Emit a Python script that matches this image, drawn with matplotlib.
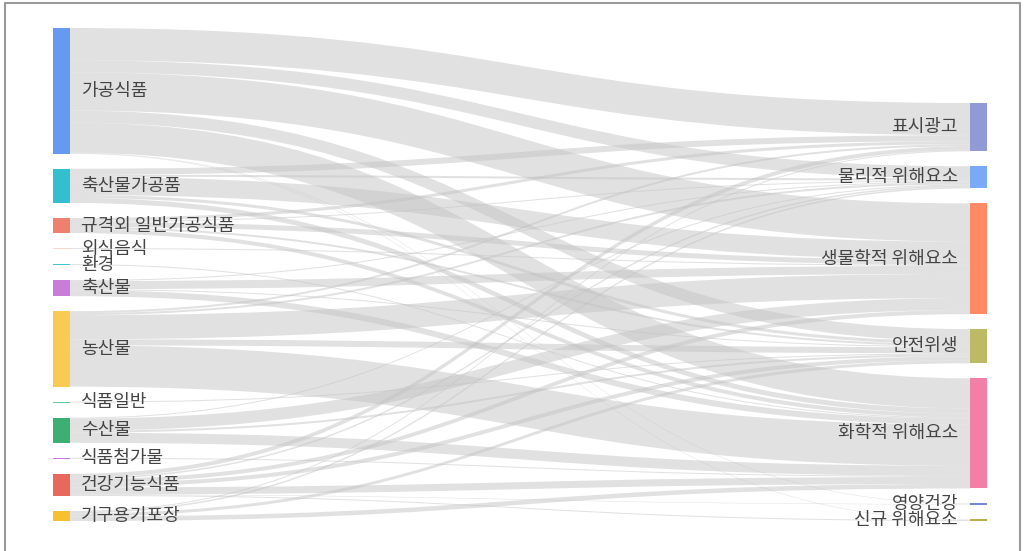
import numpy as np
import matplotlib
matplotlib.use("Agg")
import matplotlib.pyplot as plt
from matplotlib.path import Path
from matplotlib.patches import PathPatch, Rectangle

plt.rcParams['font.family'] = ['Noto Sans CJK KR', 'DejaVu Sans']

# 노드 (왼쪽: 식품 분류, 오른쪽: 위해 유형)
src_names = ["가공식품", "축산물가공품", "규격외 일반가공식품", "외식음식", "환경", "축산물",
             "농산물", "식품일반", "수산물", "식품첨가물", "건강기능식품", "기구용기포장"]
src_colors = ["#659AF0", "#33BFCF", "#EE8070", "#FAD4CE", "#44C4D4", "#C77DD9",
              "#F8CB55", "#66CC99", "#3DAF72", "#CC77DD", "#E8685E", "#F8C02F"]
tgt_names = ["표시광고", "물리적 위해요소", "생물학적 위해요소", "안전위생", "화학적 위해요소",
             "영양건강", "신규 위해요소"]
tgt_colors = ["#8F9AD6", "#7AAAF5", "#FF8A63", "#BDBA66", "#F47FA6", "#7585D0", "#B5B04A"]

# 링크 (source idx, target idx, value)
link_src = [0, 0, 0, 0, 0, 0, 0,
            1, 1, 1, 1, 1,
            2, 2, 2, 2, 2,
            3, 4,
            5, 5, 5, 5,
            6, 6, 6, 6, 6,
            7,
            8, 8, 8, 8,
            9,
            10, 10, 10, 10, 10, 10, 10,
            11, 11, 11, 11]
link_tgt = [0, 1, 2, 3, 4, 5, 6,
            0, 1, 2, 3, 4,
            0, 1, 2, 3, 4,
            2, 4,
            1, 2, 3, 4,
            0, 1, 2, 3, 4,
            3,
            1, 2, 3, 4,
            4,
            0, 1, 2, 3, 4, 5, 6,
            0, 1, 3, 4]
link_val = [32, 12, 38, 12, 30, 0.5, 0.5,
            6, 2, 18, 3, 5,
            3, 1, 5, 2, 4,
            1, 1,
            1, 8, 1, 6,
            2, 2, 24, 6, 41,
            1,
            1, 12, 2, 10,
            1,
            4, 1.5, 4, 4, 7, 0.5, 1,
            1, 1.5, 3, 4.5]

W, H = 1024, 551
x_left, x_right, node_w = 53, 970, 17
y_top, y_bot, pad = 28, 521, 15

link_src = np.array(link_src); link_tgt = np.array(link_tgt); link_val = np.array(link_val, float)
src_tot = np.array([link_val[link_src == i].sum() for i in range(len(src_names))])
tgt_tot = np.array([link_val[link_tgt == j].sum() for j in range(len(tgt_names))])
ky = (y_bot - y_top - pad * (len(src_names) - 1)) / src_tot.sum()

# 노드 위치
src_y0 = y_top + np.concatenate([[0], np.cumsum(src_tot[:-1] * ky + pad)])
tgt_span = tgt_tot.sum() * ky + pad * (len(tgt_names) - 1)
tgt_y0 = (y_bot - tgt_span) + np.concatenate([[0], np.cumsum(tgt_tot[:-1] * ky + pad)])

fig = plt.figure(figsize=(W / 100, H / 100), dpi=100)
ax = fig.add_axes([0, 0, 1, 1])
ax.set_xlim(0, W); ax.set_ylim(H, 0); ax.axis("off")

# 링크: source 쪽은 target 순, target 쪽은 source 순으로 쌓음
s_off = src_y0.copy(); t_off = tgt_y0.copy()
s_pos = {}; t_pos = {}
for k in np.lexsort((link_tgt, link_src)):
    s_pos[k] = s_off[link_src[k]]; s_off[link_src[k]] += link_val[k] * ky
for k in np.lexsort((link_src, link_tgt)):
    t_pos[k] = t_off[link_tgt[k]]; t_off[link_tgt[k]] += link_val[k] * ky

xa, xb = x_left + node_w, x_right
xm = (xa + xb) / 2
for k in range(len(link_val)):
    h = link_val[k] * ky
    a0, b0 = s_pos[k], t_pos[k]
    a1, b1 = a0 + h, b0 + h
    verts = [(xa, a0), (xm, a0), (xm, b0), (xb, b0),
             (xb, b1), (xm, b1), (xm, a1), (xa, a1), (xa, a0)]
    codes = [Path.MOVETO, Path.CURVE4, Path.CURVE4, Path.CURVE4,
             Path.LINETO, Path.CURVE4, Path.CURVE4, Path.CURVE4, Path.CLOSEPOLY]
    ax.add_patch(PathPatch(Path(verts, codes), facecolor="#c4c4c4", edgecolor="none",
                           alpha=0.5, zorder=1))

# 노드 + 라벨
fs = 13
for i, name in enumerate(src_names):
    h = max(src_tot[i] * ky, 1.2)
    ax.add_patch(Rectangle((x_left, src_y0[i]), node_w, h, facecolor=src_colors[i],
                           edgecolor="none", zorder=2))
    ax.text(x_left + node_w + 11, src_y0[i] + h / 2, name, fontsize=fs, color="#444444",
            va="center", ha="left", zorder=3)
for j, name in enumerate(tgt_names):
    h = max(tgt_tot[j] * ky, 1.5)
    ax.add_patch(Rectangle((x_right, tgt_y0[j]), node_w, h, facecolor=tgt_colors[j],
                           edgecolor="none", zorder=2))
    ax.text(x_right - 12, tgt_y0[j] + h / 2, name, fontsize=fs, color="#444444",
            va="center", ha="right", zorder=3)

# 바깥 테두리
ax.plot([5, 5, 1020, 1020], [H, 3, 3, H], color="#999999", lw=1.5, zorder=4)

fig.savefig("out.png", dpi=100)
